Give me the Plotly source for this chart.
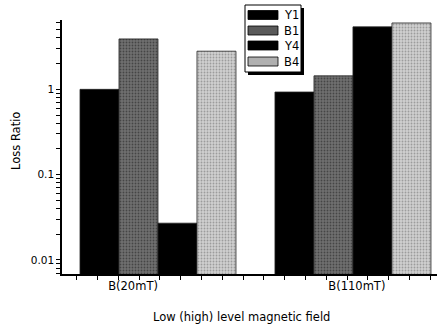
import plotly.graph_objects as go
import math

# ---- data ----
categories = ["B(20mT)", "B(110mT)"]
series_names = ["Y1", "B1", "Y4", "B4"]
Y1 = [1.0, 0.93]
B1 = [3.9, 1.44]
Y4 = [0.027, 5.4]
B4 = [2.8, 6.0]
y_tick_vals = [0.01, 0.1, 1]
y_tick_text = ["0.01", "0.1", "1"]

values = [Y1, B1, Y4, B4]
group_x = [1, 2]
label_x = [0.872, 2.02]

fills = ["#000000", "#5e5e5e", "#000000", "#b4b4b4"]
patterns = [
    None,
    dict(shape=".", fgcolor="#1a1a1a", bgcolor="#707070", size=3, solidity=0.3),
    None,
    dict(shape=".", fgcolor="#6a6a6a", bgcolor="#cfcfcf", size=3, solidity=0.3),
]
legend_fill = ["#000000", "#5a5a5a", "#000000", "#b0b0b0"]

FONT = "DejaVu Sans, Arial, sans-serif"

fig = go.Figure()
for name, vals, col, pat in zip(series_names, values, fills, patterns):
    marker = dict(color=col, line=dict(color="#222222", width=0.8))
    if pat:
        marker["pattern"] = pat
    fig.add_trace(go.Bar(x=group_x, y=vals, name=name, marker=marker, showlegend=False))

L, R, T, B = 62, 3, 20, 52
W, H = 440, 326
pw, ph = W - L - R, H - T - B

def px(x):
    return (x - L) / pw

def py(y):
    return (H - B - y) / ph

# tick positions: labelled decades plus unlabelled 2..9 sub-ticks
minor_y = [m * 10 ** d for d in range(-3, 1) for m in range(2, 10)]
all_ticks = y_tick_vals + minor_y
all_text = y_tick_text + [""] * len(minor_y)
yrange = [math.log10(0.00685), math.log10(6.5)]

fig.update_layout(
    width=W, height=H,
    margin=dict(l=L, r=R, t=T, b=B),
    paper_bgcolor="white", plot_bgcolor="white",
    barmode="group", bargap=0.2, bargroupgap=0,
    font=dict(family=FONT, size=11, color="black"),
    xaxis=dict(
        range=[0.5077, 2.431],
        tickmode="array", tickvals=label_x, ticktext=categories,
        ticks="", ticklen=0, showgrid=False, zeroline=False,
        showline=True, linecolor="black", linewidth=1.5,
        tickfont=dict(size=11.5, family=FONT),
        minor=dict(tickmode="linear", tick0=0.583, dtick=0.1067,
                   ticks="outside", ticklen=4, tickcolor="black", tickwidth=1.2,
                   showgrid=False),
    ),
    yaxis=dict(
        type="log", range=yrange,
        tickmode="array", tickvals=all_ticks, ticktext=all_text,
        ticks="outside", ticklen=4, tickcolor="black", tickwidth=1,
        showgrid=False, zeroline=False,
        showline=True, linecolor="black", linewidth=1.5,
        tickfont=dict(size=10.5, family=FONT),
    ),
)

# axis titles
fig.add_annotation(text="Low (high) level magnetic field", xref="paper", yref="paper",
                   x=px(241), y=py(317), showarrow=False,
                   font=dict(size=11.5, family=FONT), xanchor="center", yanchor="middle")
fig.add_annotation(text="Loss Ratio", xref="paper", yref="paper",
                   x=px(16), y=py(141), showarrow=False, textangle=-90,
                   font=dict(size=11.5, family=FONT), xanchor="center", yanchor="middle")

# legend box (manual, with shadow)
bx0, by0, bx1, by1 = 245, 5, 301, 72
fig.add_shape(type="rect", xref="paper", yref="paper",
              x0=px(bx0 + 3), x1=px(bx1 + 3), y0=py(by0 + 3), y1=py(by1 + 3),
              fillcolor="black", line=dict(width=0), layer="above")
fig.add_shape(type="rect", xref="paper", yref="paper",
              x0=px(bx0), x1=px(bx1), y0=py(by0), y1=py(by1),
              fillcolor="white", line=dict(color="black", width=1), layer="above")
row_y = [15, 30.5, 45.5, 61.5]
for name, col, yc in zip(series_names, legend_fill, row_y):
    fig.add_shape(type="rect", xref="paper", yref="paper",
                  x0=px(248), x1=px(278), y0=py(yc - 4.5), y1=py(yc + 4.5),
                  fillcolor=col, line=dict(color="black", width=0.8), layer="above")
    fig.add_annotation(text=name, xref="paper", yref="paper",
                       x=px(282), y=py(yc), showarrow=False,
                       font=dict(size=11.5, family=FONT), xanchor="left", yanchor="middle")

fig.write_html("out.html")
